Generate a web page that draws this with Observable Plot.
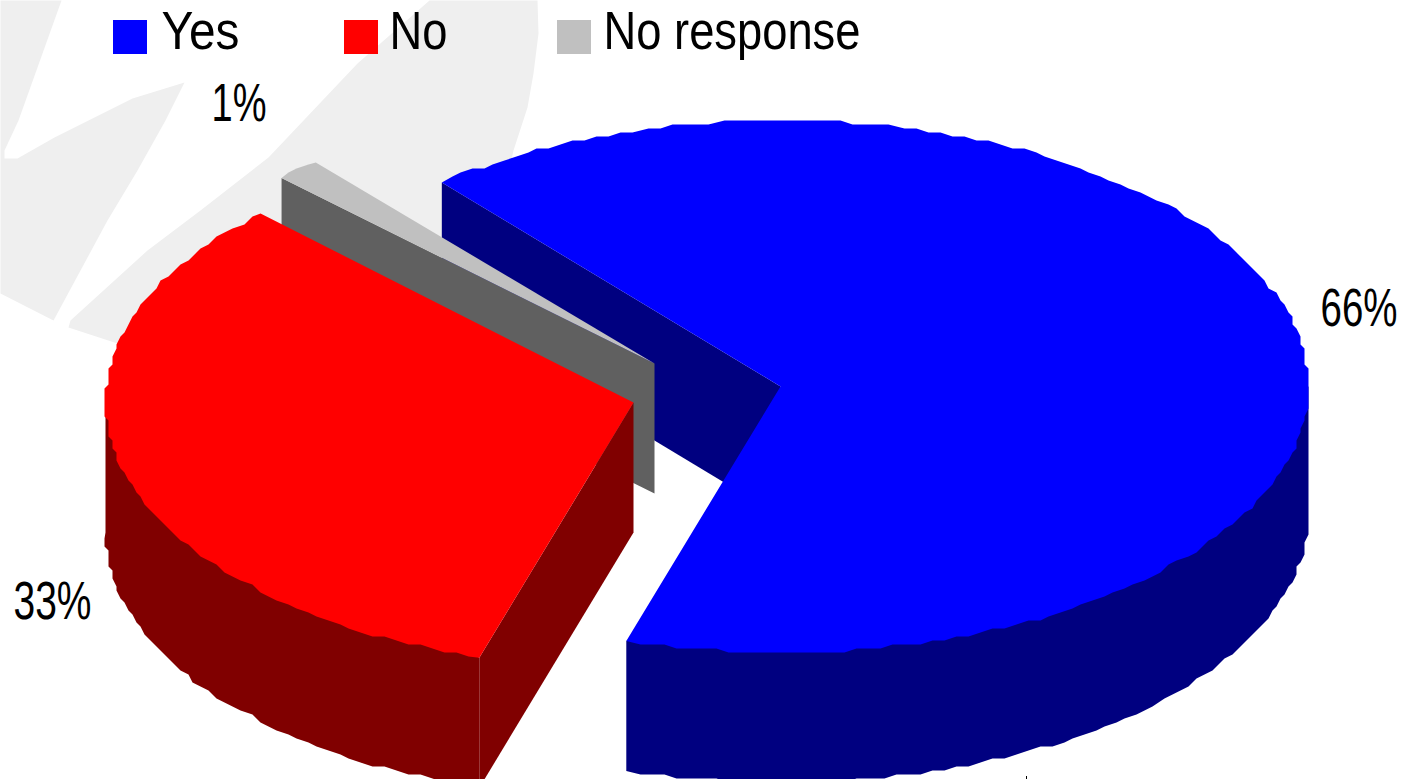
<!DOCTYPE html>
<html>
<head>
<meta charset="utf-8">
<style>html,body{margin:0;padding:0;background:#fff;overflow:hidden}svg{display:block}</style>
<script src="https://cdn.jsdelivr.net/npm/d3@7"></script>
<script src="https://cdn.jsdelivr.net/npm/@observablehq/plot@0.6"></script>
</head>
<body>
<div id="chart"></div>
<script>
const categories = ["Yes", "No", "No response"];
const shares = [65.8, 32.8, 1.4];
const shareLabels = ["66%", "33%", "1%"];
const topColors = ["#0000ff", "#ff0000", "#c0c0c0"];
const wallColors = ["#000080", "#800000", "#606060"];
const watermarkColor = "#efefef";

// Layout of the exploded pie
const centersX = [780, 633, 654];
const centersY = [386, 402, 363];
const radiusX = 528, radiusYs = [266, 267, 262], depth = 130, startAngle = 320.1;
const labelX = [1320, 13, 211];
const labelY = [325, 618, 120];
const labelWidths = [77, 78, 55];
const legendX = [113, 344, 557];
const legendTextX = [161, 389, 603];
const legendY = 48;
const legendWidths = [78, 58, 257];

// Faint background artwork
const watermarkA = [[0,0],[61,0],[18,120],[4,150],[4,158],[17,158],[54,137],[132,98],[184,82],[165,120],[137,170],[107,220],[80,270],[53,320],[0,293]];
const watermarkB = [[429,0],[537,0],[538,33],[533,73],[527,107],[513,150],[480,300],[117,343],[68,327],[70,320],[147,250],[200,210],[268,157],[357,63]];

const snap = v => Math.round(v / 4) * 4;
function rim(i, from, to) {
  const before = d3.sum(shares.slice(0, i));
  const a0 = startAngle + before * 3.6, a1 = a0 + shares[i] * 3.6;
  const lo = from === undefined ? a0 : from, hi = to === undefined ? a1 : to;
  const n = Math.max(2, Math.round((hi - lo) / 1.4));
  return d3.range(n + 1).map(k => {
    const t = (lo + (hi - lo) * k / n) * Math.PI / 180;
    const x = centersX[i] + radiusX * Math.sin(t), y = centersY[i] - radiusYs[i] * Math.cos(t);
    return (k === 0 || k === n) ? [x, y] : [snap(x), snap(y)];
  });
}
const apex = i => [centersX[i], centersY[i]];
const down = ([x, y]) => [x, y + depth];
const poly = (pts, fill) => Plot.line(pts, {x: d => d[0], y: d => d[1], fill, stroke: null, curve: "linear"});

const rims = shares.map((_, i) => rim(i));
const topFace = i => [apex(i), ...rims[i], apex(i)];
// Wall: lower rim closed by a chord that the slice's top face covers
const band = r => [r[0], ...r.map(down), r[r.length - 1]];
const edgeWall = (i, p) => [apex(i), p, down(p), down(apex(i))];
// Only the front of the rim shows a wall: clock angles 90 to 270 from the top
const boundary = startAngle + shares[0] * 3.6;

const idx = d3.range(categories.length);
const chart = Plot.plot({
  width: 1402, height: 779,
  margin: 0,
  x: {domain: [0, 1402], range: [0, 1402], axis: null},
  y: {domain: [0, 779], range: [0, 779], axis: null},
  style: {background: "#fff"},
  marks: [
    poly(watermarkA, watermarkColor),
    poly(watermarkB, watermarkColor),
    // Yes: inner wall at the start of the slice
    poly(edgeWall(0, rims[0][0]), wallColors[0]),
    // No response
    poly(edgeWall(2, rims[2][0]), wallColors[2]),
    poly(topFace(2), topColors[2]),
    // No
    poly(band(rim(1, boundary, 630)), wallColors[1]),
    poly(edgeWall(1, rims[1][0]), wallColors[1]),
    poly(topFace(1), topColors[1]),
    // Yes
    poly(band(rim(0, 450, boundary)), wallColors[0]),
    poly(topFace(0), topColors[0]),
    // Percent labels
    Plot.text(idx, {x: i => labelX[i], y: i => labelY[i], text: i => shareLabels[i], textAnchor: "start", lineAnchor: "bottom", fontSize: 53, fill: "#000"}),
    // Legend
    Plot.rect(idx, {x1: i => legendX[i], x2: i => legendX[i] + 34, y1: 20, y2: 54, fill: i => topColors[i]}),
    Plot.text(idx, {x: i => legendTextX[i], y: legendY, text: i => categories[i], textAnchor: "start", lineAnchor: "bottom", fontSize: 53, fill: "#000"}),
    Plot.ruleX([1026], {y1: 776, y2: 779, stroke: "#000"})
  ]
});
chart.style.fontFamily = "'Liberation Sans',Arial,sans-serif";
// The original type is condensed: fit each string to its measured width
const widths = [...labelWidths, ...legendWidths];
chart.querySelectorAll("text").forEach((t, i) => {
  t.setAttribute("textLength", widths[i]);
  t.setAttribute("lengthAdjust", "spacingAndGlyphs");
});
document.getElementById("chart").append(chart);
</script>
</body>
</html>
